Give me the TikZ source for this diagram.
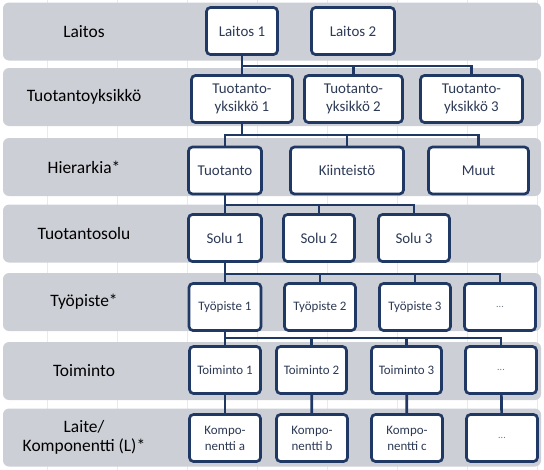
\documentclass[tikz,border=0pt]{standalone}
\usepackage{fontspec}
\setmainfont{Carlito}
\usepackage{tikz}
\usetikzlibrary{shapes,arrows}
\definecolor{navy}{RGB}{31,56,100}
\definecolor{bandgrey}{RGB}{205,207,215}
\definecolor{boxtext}{RGB}{45,58,85}
\definecolor{gridgrey}{RGB}{234,234,234}

\begin{document}
\begin{tikzpicture}[
  band/.style={fill=bandgrey,rounded corners=6bp,minimum width=538bp,minimum height=58bp,inner sep=0pt},
  lvl/.style={font=\fontsize{17.5}{19}\selectfont,align=center,text=black},
  unit/.style={draw=navy,line width=2.7bp,fill=white,rounded corners=4bp,text=boxtext,align=center,inner sep=1bp,minimum height=47bp,font=\fontsize{15}{18}\selectfont},
  small/.style={unit,font=\fontsize{13}{16}\selectfont},
  more/.style={unit,text=boxtext!70,font=\fontsize{10}{12}\selectfont},
  link/.style={draw=navy,line width=2.7bp}
]

\useasboundingbox (0bp,0bp) rectangle (544bp,-470bp);

\foreach \x in {47,117,...,537}
  \draw[gridgrey,line width=0.6bp] (\x bp,0bp) -- (\x bp,-470bp);

\node (band1) at (272bp,-31.5bp)[band] {};
\node (band2) at (272bp,-97bp)[band] {};
\node (band3) at (272bp,-167bp)[band] {};
\node (band4) at (272bp,-233.5bp)[band] {};
\node (band5) at (272bp,-302bp)[band] {};
\node (band6) at (272bp,-371bp)[band] {};
\node (band7) at (272bp,-437.5bp)[band] {};

\node (lab1) at (84bp,-31.5bp)[lvl] {Laitos};
\node (lab2) at (84bp,-97bp)[lvl] {Tuotantoyksikkö};
\node (lab3) at (84bp,-167bp)[lvl] {Hierarkia*};
\node (lab4) at (84bp,-233.5bp)[lvl] {Tuotantosolu};
\node (lab5) at (84bp,-302bp)[lvl] {Työpiste*};
\node (lab6) at (84bp,-371bp)[lvl] {Toiminto};
\node (lab7) at (84bp,-437.5bp)[lvl] {Laite/\\Komponentti (L)*};

\node (L1) at (242bp,-31bp)[unit,minimum width=71bp] {Laitos 1};
\node (L2) at (353bp,-31bp)[unit,minimum width=83bp] {Laitos 2};

\node (Y1) at (242bp,-99bp)[unit,minimum width=101bp] {Tuotanto-\\yksikkö 1};
\node (Y2) at (353.5bp,-99bp)[unit,minimum width=98bp] {Tuotanto-\\yksikkö 2};
\node (Y3) at (471.5bp,-99bp)[unit,minimum width=102bp] {Tuotanto-\\yksikkö 3};

\node (H1) at (225bp,-170.5bp)[unit,minimum width=73bp] {Tuotanto};
\node (H2) at (347bp,-170.5bp)[unit,minimum width=113bp] {Kiinteistö};
\node (H3) at (478.5bp,-170.5bp)[unit,minimum width=100bp] {Muut};

\node (S1) at (225bp,-238bp)[unit,minimum width=73bp] {Solu 1};
\node (S2) at (319bp,-238bp)[unit,minimum width=71bp] {Solu 2};
\node (S3) at (414bp,-238bp)[unit,minimum width=71bp] {Solu 3};

\node (P1) at (225bp,-307bp)[small,minimum width=72bp] {Työpiste 1};
\node (P2) at (320bp,-307bp)[small,minimum width=71bp] {Työpiste 2};
\node (P3) at (415bp,-307bp)[small,minimum width=71bp] {Työpiste 3};
\node (P4) at (500bp,-307bp)[more,minimum width=71bp] {...};

\node (T1) at (225bp,-370bp)[small,minimum width=71bp] {Toiminto 1};
\node (T2) at (311.5bp,-370bp)[small,minimum width=70bp] {Toiminto 2};
\node (T3) at (406.5bp,-370bp)[small,minimum width=70bp] {Toiminto 3};
\node (T4) at (501bp,-370bp)[more,minimum width=71bp] {...};

\node (K1) at (225bp,-438bp)[small,minimum width=71bp] {Kompo-\\nentti a};
\node (K2) at (312bp,-438bp)[small,minimum width=71bp] {Kompo-\\nentti b};
\node (K3) at (407bp,-438bp)[small,minimum width=71bp] {Kompo-\\nentti c};
\node (K4) at (502bp,-438bp)[more,minimum width=71bp] {...};

\coordinate (j1) at (242bp,-66bp);
\coordinate (j2) at (242bp,-135bp);
\coordinate (j3) at (225bp,-205bp);
\coordinate (j4) at (225bp,-274bp);
\coordinate (j5) at (225bp,-338bp);

\draw [link] (L1) to (Y1);
\draw [link] (j1) -| (Y2);
\draw [link] (j1) -| (Y3);
\draw [link] (Y1) to (j2) -| (H1);
\draw [link] (j2) -| (H2);
\draw [link] (j2) -| (H3);
\draw [link] (H1) to (S1);
\draw [link] (j3) -| (S2);
\draw [link] (j3) -| (S3);
\draw [link] (S1) to (P1);
\draw [link] (j4) -| (P2);
\draw [link] (j4) -| (P3);
\draw [link] (j4) -| (P4);
\draw [link] (P1) to (T1);
\draw [link] (j5) -| (T2);
\draw [link] (j5) -| (T3);
\draw [link] (j5) -| (T4);
\draw [link] (T1) to (K1);
\draw [link] (T2) to (K2);
\draw [link] (T3) to (K3);
\draw [link] (T4) to (K4);
\end{tikzpicture}
\end{document}
